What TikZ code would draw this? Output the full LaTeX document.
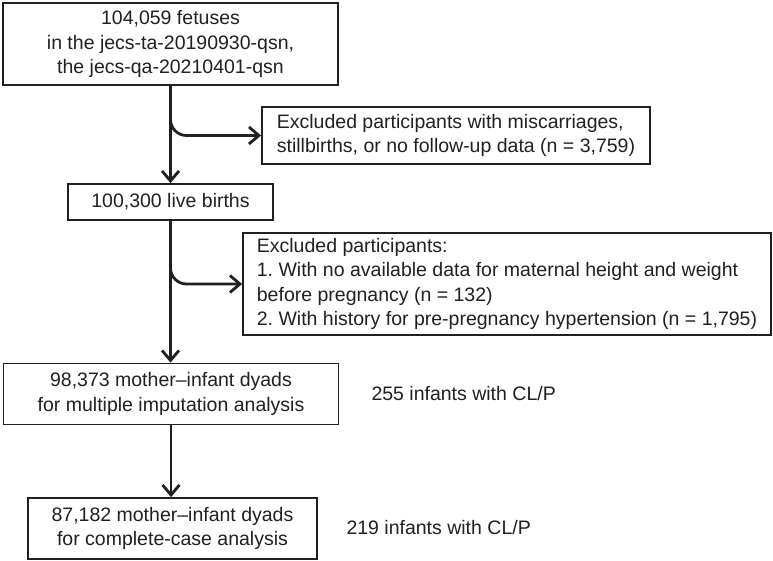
\documentclass[tikz,border=0pt]{standalone}
\usepackage{fontspec}
\setmainfont{Liberation Sans}
\usetikzlibrary{arrows.meta}
\definecolor{ink}{HTML}{231F20}
\frenchspacing

\begin{document}
\begin{tikzpicture}[x=1pt,y=-1pt,text=ink,
  font=\fontsize{19.5}{24.5}\selectfont,
  >={Straight Barb[length=10pt,width=17pt]},
  box/.style={draw=ink,line width=1.8pt,inner sep=0pt,align=center},
  sidebox/.style={box,align=left},
  flow/.style={ink,line width=2.8pt,->}]
  \useasboundingbox (0,0) rectangle (773,561);

  % main column
  \node[box,minimum width=335,minimum height=82] (fetus) at (170.5,44)
    {104,059 fetuses\\in the jecs-ta-20190930-qsn,\\the jecs-qa-20210401-qsn};
  \node[box,minimum width=205,minimum height=36] (live) at (170.5,202)
    {100,300 live births};
  \node[box,minimum width=335,minimum height=61] (imput) at (171,394)
    {98,373 mother–infant dyads\\for multiple imputation analysis};
  \node[box,minimum width=289,minimum height=61] (compl) at (172.5,528.5)
    {87,182 mother–infant dyads\\for complete-case analysis};

  % exclusions
  \node[sidebox,minimum width=388,minimum height=57] (excl1) at (456,135.5)
    {Excluded participants with miscarriages,\\
     stillbirths, or no follow-up data (n = 3,759)};
  \node[sidebox,minimum width=528,minimum height=102] (excl2) at (507,284)
    {Excluded participants:\\
     1. With no available data for maternal height and weight\\
     before pregnancy (n = 132)\\
     2. With history for pre-pregnancy hypertension (n = 1,795)};

  \node[anchor=west] (cases1) at (368,394) {255 infants with CL/P};
  \node[anchor=west] (cases2) at (343,528) {219 infants with CL/P};

  \coordinate (b1) at (170.5,117);
  \coordinate (b2) at (170.5,263);

  \draw[flow] (fetus.south) -- (live.north);
  \draw[flow] (live.south) -- (live.south |- imput.north);
  \draw[flow] (imput.south) -- (imput.south |- compl.north);
  \draw[flow,rounded corners=16pt] (b1) |- (excl1.west);
  \draw[flow,rounded corners=16pt] (b2) |- (excl2.west);
\end{tikzpicture}
\end{document}
